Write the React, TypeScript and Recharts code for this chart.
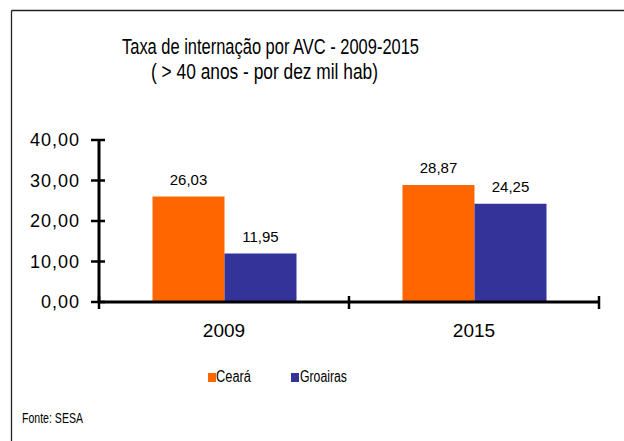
import React from "react";
import { BarChart, Bar, XAxis, YAxis, LabelList } from "recharts";

const categories = ["2009", "2015"];
const cearaValues = [26.03, 28.87];
const groairasValues = [11.95, 24.25];
const seriesNames = ["Ceará", "Groairas"];
const seriesColors = ["#FF6600", "#333399"];
const yTicks = [0, 10, 20, 30, 40];
const titleLines = ["Taxa de internação por AVC - 2009-2015", "( > 40 anos - por dez mil hab)"];
const sourceText = "Fonte: SESA";

const data = categories.map((c, i) => ({
  cat: c,
  ceara: cearaValues[i],
  groairas: groairasValues[i],
}));

const fmt = (v: number) => v.toFixed(2).replace(".", ",");
const FONT = "'Liberation Sans', Arial, sans-serif";

const CHART_W = 624;
const CHART_H = 441;
const MARGIN = { top: 140, right: 25, bottom: 109, left: 0 };
const Y_W = 99;
const PLOT_W = CHART_W - MARGIN.right - MARGIN.left - Y_W;

const YTick = (props: any) => {
  const { x, y, payload } = props;
  return (
    <g>
      <line x1={x - 8} x2={x + 6} y1={y} y2={y} stroke="#000" strokeWidth={2.5} />
      <text
        x={x - 19}
        y={y}
        dy={6}
        textAnchor="end"
        fontSize={18}
        letterSpacing={1}
        fontFamily={FONT}
        fill="#000"
      >
        {fmt(payload.value)}
      </text>
    </g>
  );
};

const XTick = (props: any) => {
  const { x, y, payload, index } = props;
  const half = PLOT_W / categories.length / 2;
  return (
    <g>
      <line x1={x - half} x2={x - half} y1={y - 6} y2={y + 7} stroke="#000" strokeWidth={2.5} />
      {index === categories.length - 1 && (
        <line x1={x + half} x2={x + half} y1={y - 6} y2={y + 7} stroke="#000" strokeWidth={2.5} />
      )}
      <text x={x} y={y + 35} textAnchor="middle" fontSize={19} fontFamily={FONT} fill="#000">
        {payload.value}
      </text>
    </g>
  );
};

export default function App() {
  return (
    <div
      style={{
        position: "absolute",
        left: 0,
        top: 0,
        width: CHART_W,
        height: CHART_H,
        background: "#fff",
        overflow: "hidden",
      }}
    >
      <BarChart
        width={CHART_W}
        height={CHART_H}
        data={data}
        margin={MARGIN}
        barGap={0}
        barCategoryGap="21.4%"
      >
        <YAxis
          width={Y_W}
          domain={[0, 40]}
          ticks={yTicks}
          interval={0}
          tickLine={false}
          tickSize={0}
          tickMargin={0}
          axisLine={{ stroke: "#000", strokeWidth: 3 }}
          tick={<YTick />}
        />
        <XAxis
          dataKey="cat"
          height={30}
          tickLine={false}
          tickSize={0}
          tickMargin={0}
          axisLine={{ stroke: "#000", strokeWidth: 3 }}
          tick={<XTick />}
        />
        <Bar dataKey="ceara" fill={seriesColors[0]} isAnimationActive={false}>
          <LabelList
            dataKey="ceara"
            position="top"
            offset={12}
            formatter={(v: any) => fmt(Number(v))}
            fontSize={15}
            fontFamily={FONT}
            fill="#000"
          />
        </Bar>
        <Bar dataKey="groairas" fill={seriesColors[1]} isAnimationActive={false}>
          <LabelList
            dataKey="groairas"
            position="top"
            offset={12}
            formatter={(v: any) => fmt(Number(v))}
            fontSize={15}
            fontFamily={FONT}
            fill="#000"
          />
        </Bar>
      </BarChart>
      <svg
        width={CHART_W}
        height={CHART_H}
        style={{ position: "absolute", left: 0, top: 0, pointerEvents: "none" }}
      >
        <line x1={11.5} x2={CHART_W} y1={10.5} y2={10.5} stroke="#222" strokeWidth={1.3} />
        <line x1={11.5} x2={11.5} y1={10.5} y2={CHART_H} stroke="#222" strokeWidth={1.3} />
        <text
          x={122}
          y={54}
          fontSize={22}
          fontFamily={FONT}
          fill="#000"
          textLength={297}
          lengthAdjust="spacingAndGlyphs"
        >
          {titleLines[0]}
        </text>
        <text
          x={151}
          y={79}
          fontSize={22}
          fontFamily={FONT}
          fill="#000"
          textLength={227}
          lengthAdjust="spacingAndGlyphs"
        >
          {titleLines[1]}
        </text>
        <rect x={208} y={373} width={8} height={9} fill={seriesColors[0]} />
        <text
          x={216}
          y={382}
          fontSize={16}
          fontFamily={FONT}
          fill="#000"
          textLength={35}
          lengthAdjust="spacingAndGlyphs"
        >
          {seriesNames[0]}
        </text>
        <rect x={291} y={373} width={8} height={9} fill={seriesColors[1]} />
        <text
          x={300}
          y={382}
          fontSize={16}
          fontFamily={FONT}
          fill="#000"
          textLength={47}
          lengthAdjust="spacingAndGlyphs"
        >
          {seriesNames[1]}
        </text>
        <text
          x={22}
          y={423}
          fontSize={14}
          fontFamily={FONT}
          fill="#000"
          textLength={61}
          lengthAdjust="spacingAndGlyphs"
        >
          {sourceText}
        </text>
      </svg>
    </div>
  );
}
